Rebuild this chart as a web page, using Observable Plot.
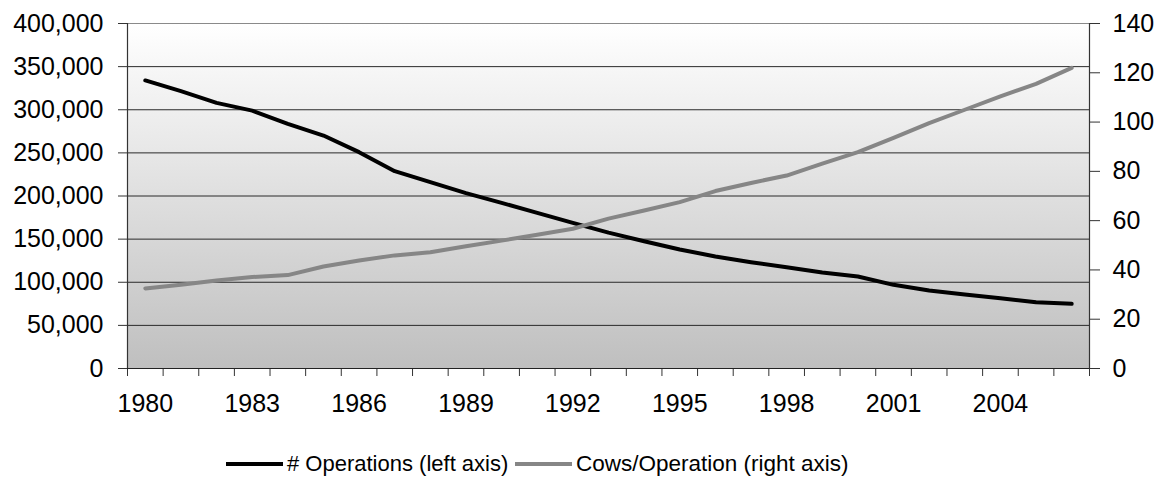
<!DOCTYPE html>
<html>
<head>
<meta charset="utf-8">
<script src="https://cdn.jsdelivr.net/npm/d3@7"></script>
<script src="https://cdn.jsdelivr.net/npm/@observablehq/plot@0.6"></script>
<style>
  body { margin: 0; background: #fff; font-family: "Liberation Sans", Arial, sans-serif; }
  #chart svg { display: block; }
  .legend { position: relative; height: 50px; }
  .legend .item { position: absolute; top: 21px; display: flex; align-items: center; font-size: 22px; color: #000; white-space: nowrap; }
  .legend .swatch { display: inline-block; width: 57px; height: 4px; margin-right: 4px; }
</style>
</head>
<body>
<div id="chart"></div>
<div class="legend">
  <div class="item" style="left:226px"><span class="swatch" style="background:#000"></span><span id="l1"></span></div>
  <div class="item" style="left:515px"><span class="swatch" style="background:#868686"></span><span id="l2" style="font-size:22.5px"></span></div>
</div>
<script>
const years = [1980,1981,1982,1983,1984,1985,1986,1987,1988,1989,1990,1991,1992,1993,1994,1995,1996,1997,1998,1999,2000,2001,2002,2003,2004,2005,2006];
const operations = [334000,321500,308000,299000,283700,270100,250800,228800,216000,203300,192000,180500,168900,157500,147600,138000,129900,123300,117500,111300,106700,97000,90400,85800,81500,76900,75000];
const cowsPerOperation = [32.5,34.0,35.7,37.1,37.9,41.4,43.8,45.9,47.2,49.6,51.9,54.3,56.7,60.8,64.1,67.5,72.0,75.3,78.3,83.1,87.8,93.6,99.6,105.0,110.4,115.5,122.0];
const leftTicks = [0,50000,100000,150000,200000,250000,300000,350000,400000];
const rightTicks = [0,20,40,60,80,100,120,140];
const labelYears = [1980,1983,1986,1989,1992,1995,1998,2001,2004];
const seriesNames = ["# Operations (left axis)", "Cows/Operation (right axis)"];

document.getElementById("l1").textContent = seriesNames[0];
document.getElementById("l2").textContent = seriesNames[1];

const leftMax = 400000, rightMax = 140;
const k = leftMax / rightMax;
const boundaries = years.map(y => y - 0.5).concat([years[years.length - 1] + 0.5]);
const xDomain = [boundaries[0], boundaries[boundaries.length - 1]];

const opsData = years.map((y, i) => ({year: y, value: operations[i]}));
const cowsData = years.map((y, i) => ({year: y, value: cowsPerOperation[i] * k}));

const plot = Plot.plot({
  width: 1163,
  height: 430,
  marginLeft: 127,
  marginRight: 74,
  marginTop: 23,
  marginBottom: 62,
  style: {fontFamily: '"Liberation Sans", Arial, sans-serif', fontSize: "25px", color: "#000", background: "#fff", overflow: "visible"},
  x: {domain: xDomain},
  y: {domain: [0, leftMax]},
  marks: [
    Plot.frame({fill: "url(#bgGrad)", stroke: null}),
    Plot.gridY(leftTicks.filter(d => d > 0 && d < leftMax), {stroke: "#2a2a2a", strokeOpacity: 1, strokeWidth: 1}),
    Plot.ruleY([leftMax], {stroke: "#8a8a8a", strokeWidth: 1}),
    Plot.ruleX([xDomain[0]], {y1: 0, y2: leftMax, stroke: "#333", strokeWidth: 1.2}),
    Plot.ruleX([xDomain[1]], {y1: 0, y2: leftMax, stroke: "#333", strokeWidth: 1.2}),
    Plot.axisX({ticks: boundaries, tickFormat: () => "", tickSize: 8, stroke: "#333", label: null}),
    Plot.axisX({ticks: labelYears, tickFormat: d => String(d), tickSize: 0, tickPadding: 26, label: null}),
    Plot.axisY({anchor: "left", ticks: leftTicks, tickFormat: d3.format(","), tickSize: 9, tickPadding: 15, stroke: "#333", label: null}),
    Plot.axisY(rightTicks, {anchor: "right", y: d => d * k, tickFormat: d => String(d), tickSize: 10, tickPadding: 13, stroke: "#333", label: null}),
    Plot.ruleY([0], {stroke: "#222", strokeWidth: 1.2}),
    Plot.line(opsData, {x: "year", y: "value", stroke: "#000", strokeWidth: 4}),
    Plot.line(cowsData, {x: "year", y: "value", stroke: "#868686", strokeWidth: 4})
  ]
});

const ns = "http://www.w3.org/2000/svg";
const defs = document.createElementNS(ns, "defs");
defs.innerHTML = '<linearGradient id="bgGrad" x1="0" y1="0" x2="0" y2="1"><stop offset="0" stop-color="#ffffff"/><stop offset="1" stop-color="#bfbfbf"/></linearGradient>';
plot.insertBefore(defs, plot.firstChild);
document.getElementById("chart").appendChild(plot);
</script>
</body>
</html>
